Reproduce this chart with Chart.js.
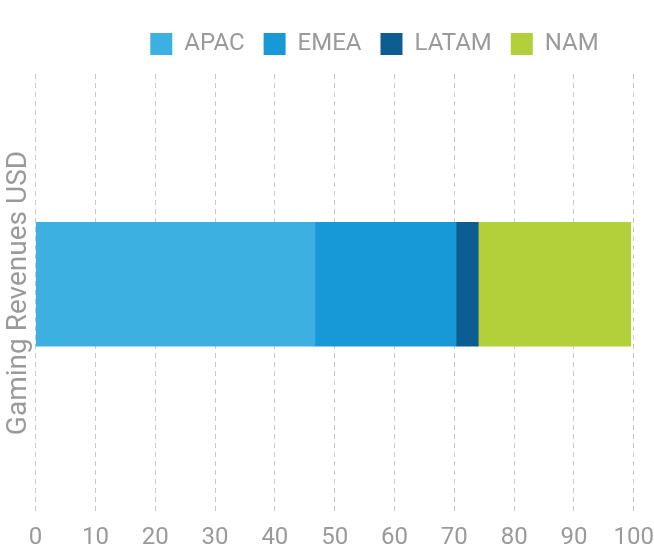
<!DOCTYPE html>
<html>
<head>
<meta charset="utf-8">
<script src="https://cdn.jsdelivr.net/npm/chart.js@4"></script>
<style>
  html, body { margin: 0; padding: 0; background: #fff; }
  #wrap { width: 654px; height: 550px; }
</style>
</head>
<body>
<div id="wrap"><canvas id="revChart"></canvas></div>
<script>
// revenue share by region, one stacked bar
var categories = ["Gaming Revenues USD"];
var regionNames = ["APAC", "EMEA", "LATAM", "NAM"];
var apacData = [46.7];
var emeaData = [23.6];
var latamData = [3.7];
var namData = [25.5];
var xTicks = [0, 10, 20, 30, 40, 50, 60, 70, 80, 90, 100];

var colors = ["#3db0e2", "#1699d6", "#0c5d91", "#b3d03a"];
var fontFamily = "Roboto, sans-serif";

var seriesData = [apacData, emeaData, latamData, namData];

// legend row sits right of centre, with extra room below it
var legendTweak = {
  id: "legendTweak",
  afterInit: function (chart) {
    var lg = chart.legend;
    var fit = lg.fit;
    lg.fit = function () {
      fit.call(this);
      this.height += 8;
    };
  },
  afterUpdate: function (chart) {
    chart.legend.left += 49;
    chart.legend.right += 49;
  },
};

let ctx = document.getElementById("revChart").getContext("2d");

let chart = new Chart(ctx, {
  type: "bar",
  data: {
    labels: categories,
    datasets: regionNames.map(function (name, i) {
      return {
        label: name,
        data: seriesData[i],
        backgroundColor: colors[i],
        borderWidth: 0,
        barThickness: 124,
      };
    }),
  },
  plugins: [legendTweak],
  options: {
    indexAxis: "y",
    responsive: true,
    maintainAspectRatio: false,
    animation: false,
    layout: {
      padding: { left: 0, right: 3, top: 13, bottom: 0 },
    },
    plugins: {
      tooltip: { enabled: false },
      legend: {
        position: "top",
        labels: {
          boxWidth: 22,
          boxHeight: 22,
          padding: 19,
          color: "#9a9a9a",
          font: { family: fontFamily, size: 24 },
        },
      },
    },
    scales: {
      x: {
        stacked: true,
        min: 0,
        max: 100,
        afterBuildTicks: function (axis) {
          axis.ticks = xTicks.map(function (v) { return { value: v }; });
        },
        grid: {
          color: "#c8c8c8",
          lineWidth: 1,
          drawTicks: true,
          tickLength: 14,
          tickColor: "rgba(0,0,0,0)",
        },
        border: { display: false, dash: [5, 4] },
        ticks: {
          color: "#9a9a9a",
          padding: 0,
          font: { family: fontFamily, size: 24, lineHeight: 1 },
        },
      },
      y: {
        stacked: true,
        // bar sits a little above the middle of the plot
        afterDataLimits: function (axis) {
          axis.min = 0.02;
        },
        border: { display: false },
        grid: { display: false, drawTicks: false },
        ticks: { display: false },
        title: {
          display: true,
          text: "Gaming Revenues USD",
          color: "#9a9a9a",
          padding: { top: 2, bottom: 0 },
          font: { family: fontFamily, size: 28 },
        },
      },
    },
  },
});
</script>
</body>
</html>
